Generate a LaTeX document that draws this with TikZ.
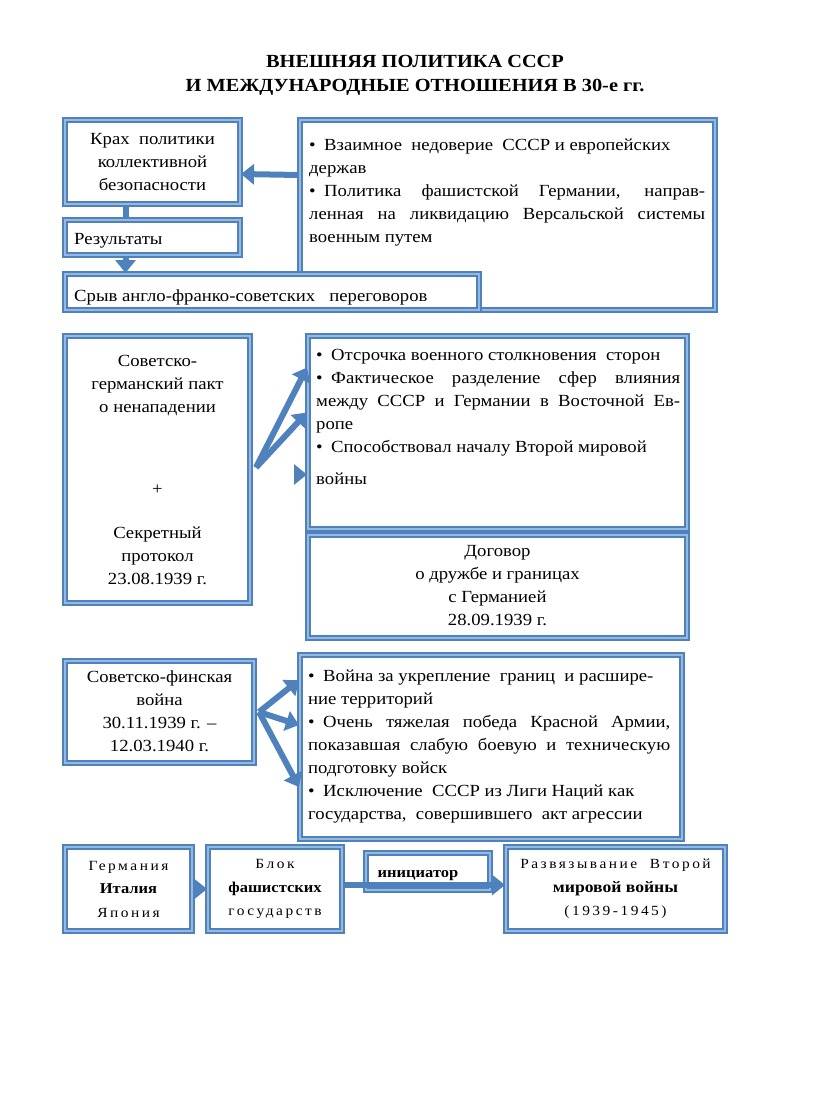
\documentclass[tikz,border=0pt]{standalone}
\usepackage{fontspec}
\setmainfont{Liberation Serif}[FakeStretch=1.1]
\usetikzlibrary{arrows.meta}

\definecolor{frameblue}{RGB}{79,129,189}
\definecolor{framelight}{RGB}{150,185,225}
\newcommand{\bodyfont}{\fontsize{17}{23}\selectfont}
\newcommand{\titlefont}{\fontsize{18.5}{24}\selectfont\bfseries}
\newcommand{\rowfont}{\fontsize{14}{23.5}\selectfont}
\newcommand{\spaced}[1]{{\addfontfeature{LetterSpace=18}#1}}

\begin{document}
\begin{tikzpicture}[x=1pt,y=-1pt,
  frame/.style={rectangle,draw=frameblue,double=framelight,double distance=2pt,
    line width=2pt,fill=white,inner sep=0pt,align=center,font=\bodyfont},
  conn/.style={draw=frameblue,line width=6pt,-{Triangle[length=13pt,width=20pt]}},
  bar/.style={draw=frameblue,line width=6pt},
  txt/.style={inner sep=0pt,font=\bodyfont}]
  \fill[white] (0,0) rectangle (816,1103);
  \useasboundingbox (0,0) rectangle (816,1103);

  % Title
  \node[txt,font=\titlefont,align=center] (title) at (415,75)
        {ВНЕШНЯЯ ПОЛИТИКА СССР\\И МЕЖДУНАРОДНЫЕ ОТНОШЕНИЯ В 30-е гг.};

  % Top part of the Figure
  \node[frame,minimum width=415pt,minimum height=190pt] (reasons)  at (507.5,215) {};
  \node[frame,minimum width=175pt,minimum height=84pt]  (collapse) at (152.5,162)
        {Крах\ \ политики\\коллективной\\безопасности};
  \node[frame,minimum width=175pt,minimum height=35pt]  (results)  at (152.5,237.5) {};
  \node[frame,minimum width=414pt,minimum height=36pt]  (failure)  at (272,292) {};
  \node[txt,anchor=west] (results text) at (74,241) {Результаты};
  \node[txt,anchor=west] (failure text) at (74,297) {Срыв англо-франко-советских\ \ \ переговоров};
  \node[txt,anchor=north west,text width=396pt,align=justify] (reasons text) at (309,139)
        {•\enspace Взаимное\ \ недоверие\ \ СССР и европейских\\
         держав\\
         •\enspace Политика фашистской Германии, направ-\linebreak
         ленная на ликвидацию Версальской системы\linebreak
         военным путем};
  \draw[conn] ([yshift=40pt]reasons.west) -- ([yshift=-12pt]collapse.east);
  \draw[bar] ([xshift=-27pt]collapse.south) -- ([xshift=-27pt]results.north);
  \draw[conn] ([xshift=-27pt]results.south) -- ([xshift=-27pt]results.south |- failure.north);

  % Middle part of the Figure
  \node[frame,minimum width=185pt,minimum height=267pt] (pact) at (157.5,469.5)
        {Советско-\\германский пакт\\о ненападении\\[59pt]+\\[21pt]Секретный\\протокол\\23.08.1939 г.};
  \node[frame,minimum width=379pt,minimum height=193pt] (pact results) at (497.5,432.5) {};
  \node[frame,minimum width=379pt,minimum height=103pt] (treaty) at (497.5,586)
        {Договор\\о дружбе и границах\\с Германией\\28.09.1939 г.};
  \node[txt,anchor=north west,text width=364pt,align=justify] (pact results text) at (316,349)
        {•\enspace Отсрочка военного столкновения\ \ сторон\\
         •\enspace Фактическое разделение сфер влияния\linebreak
         между СССР и Германии в Восточной Ев-\linebreak
         ропе\\
         •\enspace Способствовал началу Второй мировой\\[9pt]
         войны};
  \coordinate (pact fan) at ([xshift=5pt,yshift=2pt]pact.east);
  \draw[conn] (pact fan) -- ([yshift=65pt]pact results.west);
  \draw[conn] (pact fan) -- ([yshift=20pt]pact results.west);
  \draw[conn] ([xshift=-13pt,yshift=-42pt]pact results.west) -- ([yshift=-42pt]pact results.west);

  % Bottom part of the Figure
  \node[frame,minimum width=189pt,minimum height=102pt] (finnish war) at (159.5,712)
        {\mbox{}\\[-12pt]Советско-финская\\война\\30.11.1939 г. –\\12.03.1940 г.};
  \node[frame,minimum width=382pt,minimum height=184pt] (war results) at (491,747) {};
  \node[txt,anchor=north west,text width=362pt,align=justify] (war results text) at (308,670)
        {•\enspace Война за укрепление\ \ границ\ \ и расшире-\\
         ние территорий\\
         •\enspace Очень тяжелая победа Красной Армии,\linebreak
         показавшая слабую боевую и техническую\linebreak
         подготовку войск\\
         •\enspace Исключение\ \ СССР из Лиги Наций как\\
         государства,\ \ совершившего\ \ акт агрессии};
  \coordinate (war fan) at ([xshift=4pt]finnish war.east);
  \draw[conn] (war fan) -- ([yshift=67pt]war results.west);
  \draw[conn] (war fan) -- ([yshift=22pt]war results.west);
  \draw[conn] (war fan) -- ([yshift=-40pt]war results.west);

  % Row of the axis
  \node[frame,minimum width=127pt,minimum height=84pt,font=\rowfont] (axis) at (128.5,889)
        {\spaced{Германия}\\\textbf{\fontsize{15}{23.5}\selectfont Италия}\\\spaced{Япония}};
  \node[frame,minimum width=134pt,minimum height=84pt,font=\rowfont] (bloc) at (275,889)
        {\spaced{Блок}\\\textbf{\fontsize{15}{23.5}\selectfont фашистских}\\\spaced{государств}};
  \node[frame,minimum width=124pt,minimum height=37pt] (initiator) at (428,871.5) {};
  \node[frame,minimum width=219pt,minimum height=84pt,font=\rowfont] (outbreak) at (615.5,889)
        {\spaced{Развязывание\ \ Второй}\\\textbf{\fontsize{16}{23.5}\selectfont мировой войны}\\\spaced{(1939-1945)}};
  \draw[conn] (axis.east) -- (bloc.west);
  \draw[conn] ([yshift=4pt]bloc.east) -- ([yshift=4pt]outbreak.west);
  \node[txt,font=\bfseries\fontsize{15}{18}\selectfont] (initiator text) at (418,876) {инициатор};
\end{tikzpicture}
\end{document}
